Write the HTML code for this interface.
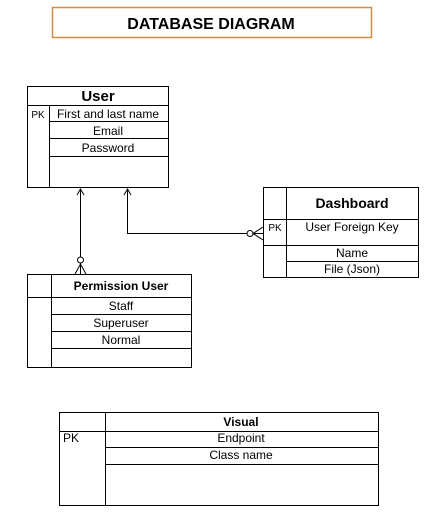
<!DOCTYPE html>
<html><head><style>
html,body{margin:0;padding:0;background:#fff;}
svg{display:block;font-family:"Liberation Sans",sans-serif;}
</style></head><body>
<svg width="429" height="522" viewBox="0 0 429 522">
<rect width="429" height="522" fill="#fff"/>
<g fill="none" stroke="#000" stroke-width="1">
<rect x="52.5" y="7.5" width="319" height="30" stroke="#d08d45" stroke-width="1.5"/>
<!-- User -->
<rect x="27.5" y="86.5" width="141" height="101"/>
<line x1="27" y1="105.5" x2="168" y2="105.5"/>
<line x1="49.5" y1="105" x2="49.5" y2="187"/>
<line x1="49" y1="121.5" x2="168" y2="121.5"/>
<line x1="49" y1="138.5" x2="168" y2="138.5"/>
<line x1="49" y1="156.5" x2="168" y2="156.5"/>
<!-- Permission -->
<rect x="27.5" y="274.5" width="164" height="93"/>
<line x1="51.5" y1="274" x2="51.5" y2="367"/>
<line x1="27" y1="297.5" x2="191" y2="297.5"/>
<line x1="51" y1="314.5" x2="191" y2="314.5"/>
<line x1="51" y1="331.5" x2="191" y2="331.5"/>
<line x1="51" y1="348.5" x2="191" y2="348.5"/>
<!-- Dashboard -->
<rect x="263.5" y="187.5" width="155" height="90"/>
<line x1="286.5" y1="187" x2="286.5" y2="277"/>
<line x1="263" y1="219.5" x2="418" y2="219.5"/>
<line x1="263" y1="245.5" x2="418" y2="245.5"/>
<line x1="286" y1="261.5" x2="418" y2="261.5"/>
<!-- Visual -->
<rect x="59.5" y="412.5" width="319" height="93"/>
<line x1="105.5" y1="412" x2="105.5" y2="505"/>
<line x1="59" y1="431.5" x2="378" y2="431.5"/>
<line x1="105" y1="447.5" x2="378" y2="447.5"/>
<line x1="105" y1="464.5" x2="378" y2="464.5"/>
<!-- connectors -->
<line x1="80.5" y1="189" x2="80.5" y2="257"/>
<polyline points="77,195 80.5,189 84,195"/>
<circle cx="80.5" cy="260" r="3"/>
<polyline points="75,274 80.5,264 86,274"/>
<line x1="80.5" y1="263" x2="80.5" y2="274"/>
<polyline points="127.5,189 127.5,233.5 247,233.5"/>
<polyline points="124,195 127.5,189 131,195"/>
<circle cx="250" cy="233.5" r="3"/>
<polyline points="263,227 253,233.5 263,240"/>
<line x1="253" y1="233.5" x2="263" y2="233.5"/>
</g>
<g font-size="12" text-anchor="middle" fill="#000">
<text x="211" y="29" font-size="16" font-weight="bold">DATABASE DIAGRAM</text>
<text x="98" y="101" font-size="15" font-weight="bold">User</text>
<text x="38" y="118" font-size="10">PK</text>
<text x="108" y="118">First and last name</text>
<text x="108" y="135">Email</text>
<text x="108" y="152">Password</text>
<text x="121" y="290" font-weight="bold">Permission User</text>
<text x="121" y="310">Staff</text>
<text x="121" y="327">Superuser</text>
<text x="121" y="344">Normal</text>
<text x="352" y="208" font-size="14" font-weight="bold">Dashboard</text>
<text x="275" y="231" font-size="10">PK</text>
<text x="352" y="231">User Foreign Key</text>
<text x="352" y="257">Name</text>
<text x="352" y="273">File (Json)</text>
<text x="241" y="426" font-weight="bold">Visual</text>
<text x="63" y="442" text-anchor="start">PK</text>
<text x="241" y="442">Endpoint</text>
<text x="241" y="459">Class name</text>
</g>
</svg>
</body></html>
